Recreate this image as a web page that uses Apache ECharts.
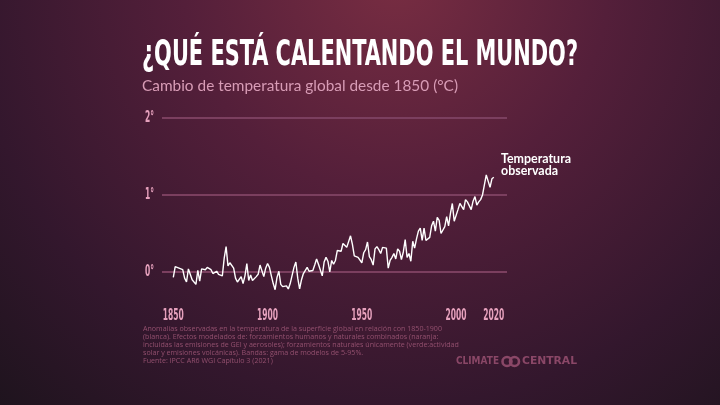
<!DOCTYPE html>
<html>
<head>
<meta charset="utf-8">
<script src="https://cdn.jsdelivr.net/npm/echarts@6/dist/echarts.min.js"></script>
<style>
  html, body { margin: 0; padding: 0; background: #2a1528; }
  #main { width: 720px; height: 405px; }
</style>
</head>
<body>
<div id="main"></div>
<script>
// anomalía anual observada respecto a 1850-1900 (°C), desde 1850 hasta 2020
var firstYear = 1850;
var anomaly = [
  -0.07, 0.07, 0.07, 0.05, 0.05, 0.03, -0.08, -0.13, 0.04, 0.03,
  -0.10, -0.08, -0.16, 0.02, -0.12, 0.04, 0.05, 0.03, 0.06, 0.05,
  0.03, -0.02, 0.00, 0.01, -0.03, -0.02, -0.05, 0.18, 0.33, 0.08,
  0.12, 0.10, 0.05, -0.08, -0.13, -0.12, -0.06, -0.15, -0.05, 0.11,
  -0.11, -0.04, -0.11, -0.13, -0.06, -0.03, 0.09, 0.10, -0.06, 0.05,
  0.11, 0.06, -0.05, -0.15, -0.23, -0.07, 0.01, -0.16, -0.19, -0.21,
  -0.18, -0.22, -0.15, -0.13, 0.06, 0.13, -0.08, -0.22, -0.10, -0.02,
  0.00, 0.06, 0.01, 0.03, 0.02, 0.09, 0.17, 0.10, 0.09, -0.05,
  0.13, 0.19, 0.14, 0.00, 0.15, 0.10, 0.15, 0.28, 0.30, 0.27,
  0.37, 0.38, 0.32, 0.33, 0.47, 0.36, 0.21, 0.23, 0.19, 0.17,
  0.12, 0.25, 0.29, 0.39, 0.20, 0.16, 0.09, 0.30, 0.33, 0.29,
  0.24, 0.32, 0.30, 0.31, 0.05, 0.15, 0.19, 0.24, 0.17, 0.30,
  0.27, 0.16, 0.26, 0.42, 0.19, 0.24, 0.14, 0.40, 0.31, 0.43,
  0.53, 0.57, 0.41, 0.57, 0.41, 0.39, 0.45, 0.60, 0.66, 0.53,
  0.71, 0.67, 0.50, 0.51, 0.59, 0.72, 0.60, 0.76, 0.89, 0.66,
  0.67, 0.81, 0.89, 0.90, 0.81, 0.94, 0.91, 0.92, 0.81, 0.92,
  0.98, 0.87, 0.91, 0.94, 1.00, 1.13, 1.26, 1.18, 1.10, 1.21,
  1.23
];
var xTicks = [1850, 1900, 1950, 2000, 2020];
var yTicks = [0, 1, 2];

var titleText = '¿QUÉ ESTÁ CALENTANDO EL MUNDO?';
var subtitleText = 'Cambio de temperatura global desde 1850 (°C)';
var seriesLabel = ['Temperatura', 'observada'];
var noteLines = [
  'Anomalías observadas en la temperatura de la superficie global en relación con 1850-1900',
  '(blanca). Efectos modelados de: forzamientos humanos y naturales combinados (naranja:',
  'incluidas las emisiones de GEI y aerosoles); forzamientos naturales únicamente (verde:actividad',
  'solar y emisiones volcánicas). Bandas: gama de modelos de 5-95%.',
  'Fuente: IPCC AR6 WGI Capítulo 3 (2021)'
];

var narrow = '"Liberation Sans Narrow", "DejaVu Sans Condensed", sans-serif';
var pink = '#e6a1bd';

var ctx = document.createElement('canvas').getContext('2d');
function fitScale(text, font, width) {
  ctx.font = font;
  return width / ctx.measureText(text).width;
}
function txt(x, y, text, font, fill, align, sx) {
  return {
    type: 'text', x: x, y: y, scaleX: sx || 1, silent: true,
    style: { text: text, font: font, fill: fill, align: align, verticalAlign: 'middle',
             textAlign: align, textVerticalAlign: 'middle' }
  };
}

var points = anomaly.map(function (v, i) { return [firstYear + i, v]; });

var chart = echarts.init(document.getElementById('main'));
chart.setOption({
  animation: false,
  backgroundColor: {
    type: 'radial', x: 0.55, y: -0.05, r: 1.5,
    colorStops: [
      { offset: 0, color: '#782d42' },
      { offset: 0.35, color: '#541f3a' },
      { offset: 0.7, color: '#33172d' },
      { offset: 1, color: '#1b131b' }
    ]
  },
  grid: { left: 162, right: 213, top: 118, bottom: 133 },
  xAxis: {
    type: 'value', min: 1844, max: 2027,
    axisLine: { show: false }, axisTick: { show: false },
    axisLabel: { show: false }, splitLine: { show: false }
  },
  yAxis: {
    type: 'value', min: 0, max: 2, interval: 1,
    axisLine: { show: false }, axisTick: { show: false },
    axisLabel: { show: false },
    splitLine: { lineStyle: { color: '#7b3f5f', width: 2 } }
  },
  series: [{
    type: 'line', data: points, showSymbol: false, clip: false, silent: true,
    lineStyle: { color: '#ffffff', width: 1.4 }
  }]
});

// etiquetas de ejes y textos
var tickFont = 'bold 16px ' + narrow;
var tickScale = fitScale('1850', tickFont, 21);
var g = [];
xTicks.forEach(function (yr) {
  var p = chart.convertToPixel({ gridIndex: 0 }, [yr, 0]);
  g.push(txt(p[0], 316, String(yr), tickFont, pink, 'center', tickScale));
});
yTicks.forEach(function (v) {
  var p = chart.convertToPixel({ gridIndex: 0 }, [1844, v]);
  g.push(txt(p[0] - 8, p[1], v + '°', tickFont, pink, 'right', tickScale));
});

var titleFont = 'bold 36px ' + narrow;
g.push(txt(142, 56, titleText, titleFont, '#ffffff', 'left', fitScale(titleText, titleFont, 436)));

var subFont = '16px Lato, "Noto Sans", sans-serif';
g.push(txt(142, 86, subtitleText, subFont, '#d89cb6', 'left', fitScale(subtitleText, subFont, 316)));

var labFont = 'bold 12.5px Lato, "Noto Sans", sans-serif';
var labScale = fitScale(seriesLabel[0], labFont, 70);
g.push(txt(501, 159, seriesLabel[0], labFont, '#ffffff', 'left', labScale));
g.push(txt(501, 171, seriesLabel[1], labFont, '#ffffff', 'left', labScale));

var noteFont = '7.5px "Open Sans", sans-serif';
var noteScale = fitScale(noteLines[0], noteFont, 299);
noteLines.forEach(function (line, i) {
  g.push(txt(143, 329 + i * 8, line, noteFont, '#94506f', 'left', noteScale));
});

// logo
var logoColor = '#8a4767';
var logoFont = 'bold 11px "DejaVu Sans", sans-serif';
g.push(txt(456, 361.5, 'CLIMATE', logoFont, logoColor, 'left', fitScale('CLIMATE', logoFont, 43)));
g.push(txt(522, 361.5, 'CENTRAL', logoFont, logoColor, 'left', fitScale('CENTRAL', logoFont, 55)));
g.push({ type: 'circle', silent: true, shape: { cx: 507, cy: 361.5, r: 4.5 },
         style: { fill: 'none', stroke: logoColor, lineWidth: 2.6 } });
g.push({ type: 'circle', silent: true, shape: { cx: 514.5, cy: 361.5, r: 4.5 },
         style: { fill: 'none', stroke: logoColor, lineWidth: 2.6 } });

chart.setOption({ graphic: g });
</script>
</body>
</html>
